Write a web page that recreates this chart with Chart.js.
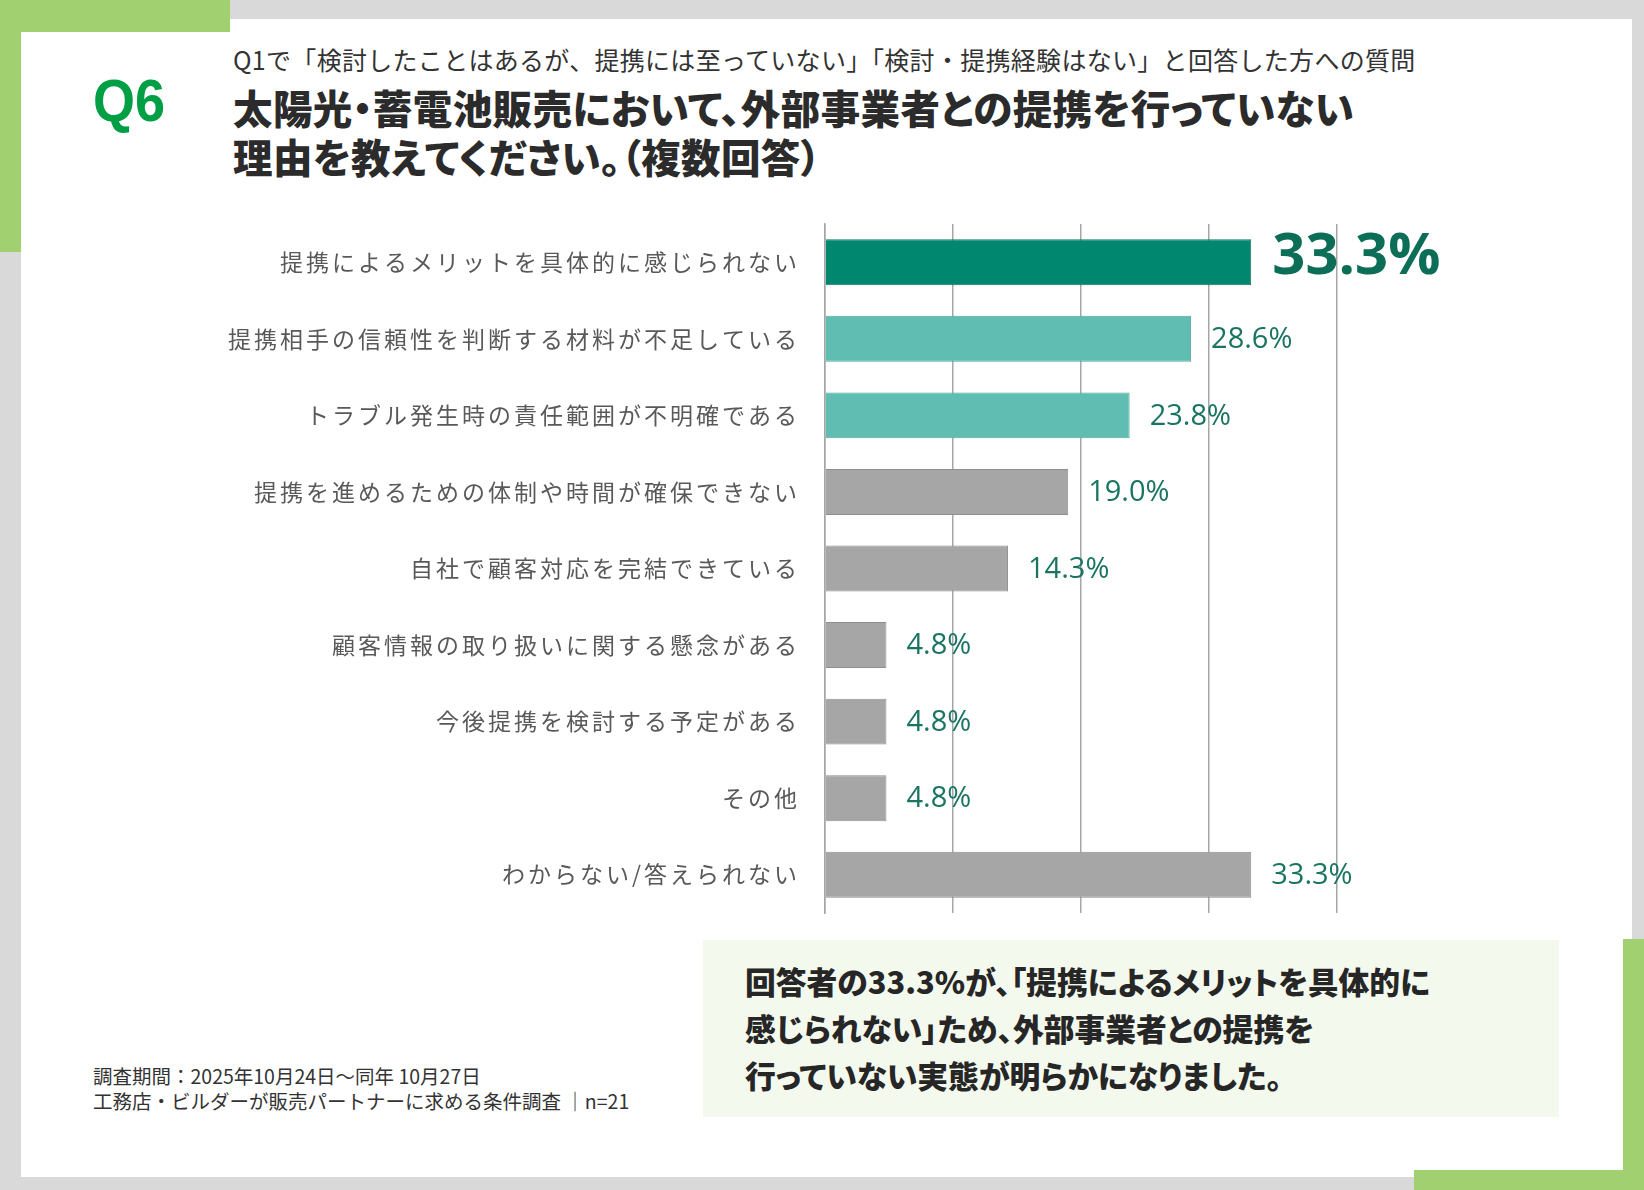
<!DOCTYPE html>
<html lang="ja">
<head>
<meta charset="utf-8">
<script src="https://cdn.jsdelivr.net/npm/chart.js@4.4.1/dist/chart.umd.min.js"></script>
<style>
  html, body { margin: 0; padding: 0; }
  body { width: 1644px; height: 1190px; background: #d9d9d9; position: relative; overflow: hidden;
         font-family: 'Noto Sans CJK JP', 'Noto Sans', sans-serif; }
  .abs { position: absolute; white-space: nowrap; }
  #card { left: 21px; top: 19px; width: 1611px; height: 1158px; background: #fff; }
  .green { position: absolute; background: #a0d070; }
  #q6 { left: 93px; top: 66px; font: bold 60px 'Liberation Sans', Arial, sans-serif; color: #009e45;
        line-height: 70px; transform: scaleX(0.9); transform-origin: left center; }
  #sub { left: 233px; top: 43px; font-size: 25px; letter-spacing: 0.3px; line-height: 32px; color: #333; }
  .title { left: 233px; font-size: 39.5px; font-weight: 900; line-height: 46px; color: #2b2b2b;
           font-feature-settings: "palt"; letter-spacing: 0.4px; }
  #box { left: 703px; top: 940px; width: 856px; height: 177px; background: #f4f9ee; }
  .boxline { left: 745px; font-size: 30.8px; font-weight: 900; line-height: 36px; color: #262626;
             font-feature-settings: "palt"; }
  .foot { left: 93px; font-size: 19.5px; line-height: 24px; color: #333; }
  #c { position: absolute; left: 200px; top: 200px; }
</style>
</head>
<body>
<div id="card" class="abs"></div>
<div class="green" style="left:0;top:0;width:230px;height:32px;"></div>
<div class="green" style="left:0;top:0;width:21px;height:252px;"></div>
<div class="green" style="left:1623px;top:939px;width:21px;height:251px;"></div>
<div class="green" style="left:1414px;top:1170px;width:230px;height:20px;"></div>

<div id="q6" class="abs">Q6</div>
<div id="sub" class="abs">Q1で「検討したことはあるが、提携には至っていない」「検討・提携経験はない」と回答した方への質問</div>
<div class="abs title" style="top:84px;">太陽光・蓄電池販売において、外部事業者との提携を行っていない</div>
<div class="abs title" style="top:133px;">理由を教えてください。（複数回答）</div>

<canvas id="c" width="1300" height="740"></canvas>

<div id="box" class="abs"></div>
<div class="abs boxline" style="top:963px;">回答者の33.3%が、「提携によるメリットを具体的に</div>
<div class="abs boxline" style="top:1010px;">感じられない」ため、外部事業者との提携を</div>
<div class="abs boxline" style="top:1057px;">行っていない実態が明らかになりました。</div>

<div class="abs foot" style="top:1064px;">調査期間：2025年10月24日～同年 10月27日</div>
<div class="abs foot" style="top:1089px;">工務店・ビルダーが販売パートナーに求める条件調査 ｜n=21</div>

<script>
const categories = [
  '提携によるメリットを具体的に感じられない',
  '提携相手の信頼性を判断する材料が不足している',
  'トラブル発生時の責任範囲が不明確である',
  '提携を進めるための体制や時間が確保できない',
  '自社で顧客対応を完結できている',
  '顧客情報の取り扱いに関する懸念がある',
  '今後提携を検討する予定がある',
  'その他',
  'わからない/答えられない'
];
const values = [33.3, 28.6, 23.8, 19.0, 14.3, 4.8, 4.8, 4.8, 33.3];
const axisMax = 40;
const axisStep = 10;

const barColors = values.map((v, i) => i === 0 ? '#00876f' : (i < 3 ? '#5fbdb1' : '#a6a6a6'));
const barBorders = values.map((v, i) => i === 0 ? '#1c6f5f' : (i < 3 ? '#56a89e' : '#8f8f8f'));

// spaced tick labels like the original slide
const spacing = {
  id: 'spacing',
  beforeDraw(chart) {
    chart.ctx.letterSpacing = '3px';
  }
};

// percentage labels at the bar ends
const valueLabels = {
  id: 'valueLabels',
  afterDatasetsDraw(chart) {
    const ctx = chart.ctx;
    const meta = chart.getDatasetMeta(0);
    ctx.save();
    ctx.letterSpacing = '0px';
    ctx.textAlign = 'left';
    ctx.textBaseline = 'middle';
    meta.data.forEach((bar, i) => {
      if (i === 0) {
        ctx.font = "bold 58px 'Open Sans', sans-serif";
        ctx.fillStyle = '#0d6e58';
        ctx.fillText(values[i].toFixed(1) + '%', bar.x + 21, bar.y - 5);
      } else {
        ctx.font = "500 29px 'Open Sans', sans-serif";
        ctx.fillStyle = '#1a7462';
        ctx.fillText(values[i].toFixed(1) + '%', bar.x + 20, bar.y + 1);
      }
    });
    ctx.restore();
  }
};

new Chart(document.getElementById('c'), {
  type: 'bar',
  data: {
    labels: categories,
    datasets: [{
      data: values,
      backgroundColor: barColors,
      borderColor: barBorders,
      borderWidth: 1,
      categoryPercentage: 1,
      barPercentage: 0.6
    }]
  },
  options: {
    indexAxis: 'y',
    responsive: false,
    animation: false,
    layout: { padding: { left: 0, right: 163, top: 24, bottom: 27 } },
    plugins: { legend: { display: false }, tooltip: { enabled: false } },
    scales: {
      x: {
        min: 0,
        max: axisMax,
        ticks: { display: false, stepSize: axisStep },
        grid: { color: '#a6a6a6', lineWidth: 1.5, drawTicks: false },
        border: { display: false },
        afterFit(scale) { scale.height = 0; }
      },
      y: {
        ticks: {
          color: '#595959',
          padding: 25,
          font: { family: "'Noto Sans CJK JP', sans-serif", size: 23, weight: 400 }
        },
        grid: { display: false, drawTicks: false },
        border: { display: true, color: '#a6a6a6', width: 1.5 },
        afterFit(scale) {
          scale.width = 625;
          scale.paddingTop = 0;
          scale.paddingBottom = 0;
        }
      }
    }
  },
  plugins: [spacing, valueLabels]
});
</script>
</body>
</html>
